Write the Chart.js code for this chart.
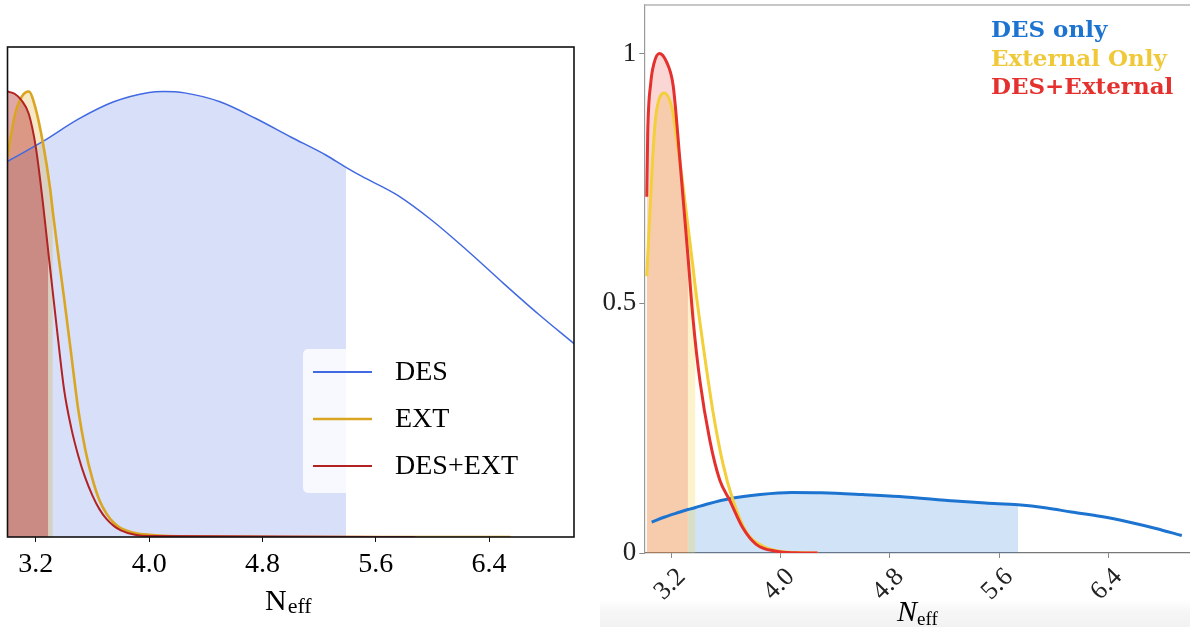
<!DOCTYPE html>
<html>
<head>
<meta charset="utf-8">
<script src="https://cdn.jsdelivr.net/npm/chart.js@4.4.0/dist/chart.umd.min.js"></script>
<style>
  body { margin: 0; width: 1190px; height: 627px; background: #fff; overflow: hidden; position: relative; }
  #leftBox { position: absolute; left: 0; top: 0; width: 600px; height: 627px; }
  #rightBox { position: absolute; left: 600px; top: 0; width: 590px; height: 627px;
    background: linear-gradient(to bottom, #fff 0px, #fff 600px, #f6f6f6 612px, #f2f2f2 627px); }
</style>
</head>
<body>
<div id="leftBox"><canvas id="leftChart" width="600" height="627"></canvas></div>
<div id="rightBox"><canvas id="rightChart" width="590" height="627"></canvas></div>
<script>
// ---- left panel: normalised 1D posteriors of N_eff ----
const leftDesN = [3.0, 3.25, 3.5, 3.75, 4.0, 4.1, 4.25, 4.5, 4.75, 5.0, 5.25, 5.39, 5.5, 5.75, 6.0, 6.25, 6.5, 6.75, 7.0];
const leftDes  = [0.843, 0.888, 0.938, 0.977, 0.998, 1.0, 0.997, 0.977, 0.94, 0.898, 0.857, 0.83, 0.81, 0.768, 0.71, 0.642, 0.57, 0.5, 0.434];
const leftExtN = [3.0, 3.05, 3.1, 3.15, 3.2, 3.25, 3.3, 3.32, 3.35, 3.4, 3.45, 3.5, 3.55, 3.6, 3.65, 3.7, 3.75, 3.8, 3.9, 4.0, 4.3, 5.0, 6.55];
const leftExt  = [0.855, 0.945, 0.988, 1.0, 0.96, 0.885, 0.785, 0.73, 0.655, 0.535, 0.41, 0.285, 0.195, 0.13, 0.082, 0.052, 0.032, 0.02, 0.009, 0.005, 0.001, 0, 0];
const leftCombN = [3.0, 3.05, 3.1, 3.15, 3.2, 3.25, 3.288, 3.3, 3.35, 3.4, 3.45, 3.5, 3.55, 3.6, 3.65, 3.7, 3.75, 3.8, 3.9, 4.0, 5.88];
const leftComb  = [1.0, 0.995, 0.98, 0.95, 0.875, 0.75, 0.64, 0.606, 0.464, 0.33, 0.245, 0.182, 0.132, 0.093, 0.062, 0.04, 0.025, 0.015, 0.005, 0.002, 0];
// shaded intervals
const leftDesBand = [3.0, 5.39];
const leftExtBand = [3.0, 3.32];
const leftCombBand = [3.0, 3.288];
const leftTicks = [3.2, 4.0, 4.8, 5.6, 6.4];
const leftLabels = ['DES', 'EXT', 'DES+EXT'];

// ---- right panel ----
const rightDesN = [3.054, 3.15, 3.25, 3.32, 3.375, 3.45, 3.63, 3.85, 4.08, 4.3, 4.6, 4.87, 5.28, 5.5, 5.74, 5.95, 6.13, 6.35, 6.55, 6.75, 6.94];
const rightDes  = [0.062, 0.072, 0.081, 0.087, 0.091, 0.097, 0.109, 0.117, 0.121, 0.1205, 0.117, 0.113, 0.104, 0.1, 0.0965, 0.09, 0.082, 0.073, 0.062, 0.049, 0.035];
const rightExtN = [3.018, 3.058, 3.073, 3.09, 3.146, 3.207, 3.232, 3.266, 3.297, 3.358, 3.375, 3.43, 3.504, 3.577, 3.65, 3.748, 3.87, 3.99, 4.1, 4.27];
const rightExt  = [0.554, 0.773, 0.84, 0.886, 0.921, 0.886, 0.84, 0.773, 0.706, 0.57, 0.53, 0.418, 0.282, 0.178, 0.1055, 0.0415, 0.0134, 0.0034, 0.0008, 0];
const rightCombN = [3.018, 3.025, 3.047, 3.071, 3.11, 3.163, 3.212, 3.261, 3.32, 3.358, 3.407, 3.48, 3.553, 3.626, 3.723, 3.82, 3.967, 4.1, 4.27];
const rightComb  = [0.713, 0.84, 0.94, 0.98, 1.0, 0.983, 0.935, 0.786, 0.594, 0.466, 0.346, 0.226, 0.146, 0.1055, 0.05, 0.0174, 0.0034, 0.0005, 0];
const rightDesBand = [3.32, 5.74];
const rightExtBand = [3.018, 3.375];
const rightCombBand = [3.018, 3.32];
const rightXTicks = [3.2, 4.0, 4.8, 5.6, 6.4];
const rightYTicks = [0, 0.5, 1];
const rightLabels = ['DES only', 'External Only', 'DES+External'];

const SERIF = '"Liberation Serif", "Times New Roman", serif';

function pts(n, v) {
  return n.map((x, i) => ({ x: x, y: v[i] }));
}
function lineSet(label, n, v, color, width) {
  return { label: label, data: pts(n, v), borderColor: color, borderWidth: width, fill: false,
           pointRadius: 0, cubicInterpolationMode: 'monotone' };
}
function fillSet(n, v, band, color) {
  const d = pts(n, v).filter(p => p.x >= band[0] && p.x <= band[1]);
  return { label: '', data: d, borderWidth: 0, borderColor: 'rgba(0,0,0,0)', backgroundColor: color,
           fill: 'origin', pointRadius: 0, cubicInterpolationMode: 'monotone' };
}

// frame around the plotting area
const frame = {
  id: 'frame',
  afterDraw(chart, args, o) {
    const a = chart.chartArea, ctx = chart.ctx;
    ctx.save();
    ctx.strokeStyle = o.color; ctx.lineWidth = o.width;
    if (o.full) {
      ctx.strokeRect(a.left, a.top, a.right - a.left, a.bottom - a.top);
    } else {
      ctx.beginPath(); ctx.moveTo(a.left, a.top); ctx.lineTo(a.right, a.top); ctx.stroke();
    }
    ctx.restore();
  }
};

// N_eff axis title with subscript
const axisTitle = {
  id: 'axisTitle',
  afterDraw(chart, args, o) {
    const ctx = chart.ctx;
    ctx.save();
    ctx.fillStyle = '#000';
    ctx.textBaseline = 'alphabetic';
    ctx.textAlign = 'left';
    ctx.font = o.mainFont;
    ctx.fillText('N', o.x, o.y);
    const w = ctx.measureText('N').width;
    ctx.font = o.subFont;
    ctx.fillText('eff', o.x + w + o.gap, o.y + o.drop);
    ctx.restore();
  }
};

// boxed legend with line handles
const boxLegend = {
  id: 'boxLegend',
  afterDatasetsDraw(chart, args, o) {
    const ctx = chart.ctx;
    ctx.save();
    ctx.fillStyle = 'rgba(255,255,255,0.8)';
    ctx.beginPath();
    ctx.roundRect(o.x, o.y, o.w, o.h, 5);
    ctx.fill();
    o.labels.forEach((lab, i) => {
      const ds = chart.data.datasets.find(d => d.label === lab);
      const cy = o.y + o.first + i * o.step;
      ctx.strokeStyle = ds.borderColor;
      ctx.lineWidth = Math.max(ds.borderWidth, 2);
      ctx.beginPath(); ctx.moveTo(o.x + 10, cy); ctx.lineTo(o.x + 69, cy); ctx.stroke();
      ctx.fillStyle = '#000';
      ctx.font = '28px ' + SERIF;
      ctx.textBaseline = 'middle';
      ctx.fillText(lab, o.x + 92, cy + 1);
    });
    ctx.restore();
  }
};

// coloured text legend
const textLegend = {
  id: 'textLegend',
  afterDraw(chart, args, o) {
    const ctx = chart.ctx;
    ctx.save();
    ctx.font = o.font;
    ctx.textBaseline = 'alphabetic';
    o.labels.forEach((lab, i) => {
      ctx.fillStyle = o.colors[i];
      ctx.fillText(lab, o.x, o.y + i * o.step);
    });
    ctx.restore();
  }
};

new Chart(document.getElementById('leftChart'), {
  type: 'line',
  data: {
    datasets: [
      lineSet('DES+EXT', leftCombN, leftComb, '#b22222', 2),
      lineSet('EXT', leftExtN, leftExt, '#daa520', 2.6),
      lineSet('DES', leftDesN, leftDes, '#4169e1', 1.5),
      fillSet(leftCombN, leftComb, leftCombBand, 'rgba(178,34,34,0.4)'),
      fillSet(leftExtN, leftExt, leftExtBand, 'rgba(218,165,32,0.25)'),
      fillSet(leftDesN, leftDes, leftDesBand, 'rgba(65,105,225,0.21)')
    ]
  },
  options: {
    responsive: false,
    animation: false,
    layout: { padding: { left: 7.5, top: 47, right: 26, bottom: 0 } },
    plugins: {
      legend: { display: false },
      tooltip: { enabled: false },
      frame: { color: '#111', width: 1.6, full: true },
      axisTitle: { x: 265, y: 610, mainFont: '30px ' + SERIF, subFont: '22px ' + SERIF, gap: 1, drop: 3 },
      boxLegend: { labels: leftLabels, x: 303, y: 349, w: 230, h: 144, first: 23, step: 47 }
    },
    scales: {
      x: {
        type: 'linear', min: 3.0, max: 7.0,
        afterBuildTicks: s => { s.ticks = leftTicks.map(v => ({ value: v })); },
        afterFit: s => { s.height = 90; },
        border: { display: false },
        grid: { drawOnChartArea: false, tickLength: 5, color: '#111' },
        ticks: { autoSkip: false, maxRotation: 0, padding: 6, color: '#000',
                 font: { family: SERIF, size: 28 }, callback: v => v.toFixed(1) }
      },
      y: { display: false, min: 0, max: 1.1 }
    }
  },
  plugins: [frame, axisTitle, boxLegend]
});

new Chart(document.getElementById('rightChart'), {
  type: 'line',
  data: {
    datasets: [
      lineSet('DES+External', rightCombN, rightComb, '#e5312e', 3),
      lineSet('External Only', rightExtN, rightExt, '#f3cf3a', 3),
      lineSet('DES only', rightDesN, rightDes, '#1c74d0', 3),
      fillSet(rightCombN, rightComb, rightCombBand, 'rgba(232,48,44,0.2)'),
      fillSet(rightExtN, rightExt, rightExtBand, 'rgba(244,208,56,0.25)'),
      fillSet(rightDesN, rightDes, rightDesBand, 'rgba(26,116,209,0.2)')
    ]
  },
  options: {
    responsive: false,
    animation: false,
    layout: { padding: { left: 0, top: 5, right: 0, bottom: 0 } },
    plugins: {
      legend: { display: false },
      tooltip: { enabled: false },
      frame: { color: '#b5b5b5', width: 1.5, full: false },
      axisTitle: { x: 297, y: 621, mainFont: 'italic 30px ' + SERIF, subFont: '19px ' + SERIF, gap: 0, drop: 4 },
      textLegend: { labels: rightLabels, colors: ['#1c74d0', '#f0c93a', '#e5312e'],
                    font: 'bold 23px "DejaVu Serif", serif', x: 391, y: 37, step: 28.5 }
    },
    scales: {
      x: {
        type: 'linear', min: 3.0, max: 7.0,
        afterBuildTicks: s => { s.ticks = rightXTicks.map(v => ({ value: v })); },
        afterFit: s => { s.height = 74; },
        border: { display: true, color: '#777', width: 1.2 },
        grid: { drawOnChartArea: false, tickLength: 5, color: '#888' },
        ticks: { autoSkip: false, minRotation: 45, maxRotation: 45, padding: 4, labelOffset: 10,
                 color: '#222', font: { family: SERIF, size: 26 }, callback: v => v.toFixed(1) }
      },
      y: {
        min: 0, max: 1.097,
        afterBuildTicks: s => { s.ticks = rightYTicks.map(v => ({ value: v })); },
        afterFit: s => { s.width = 44.3; s.paddingTop = 0; s.paddingBottom = 0; },
        border: { display: true, color: '#999', width: 1.2 },
        grid: { drawOnChartArea: false, tickLength: 5, color: '#888' },
        ticks: { padding: 3, color: '#222', font: { family: SERIF, size: 27 }, callback: v => String(v) }
      }
    }
  },
  plugins: [frame, axisTitle, textLegend]
});
</script>
</body>
</html>
